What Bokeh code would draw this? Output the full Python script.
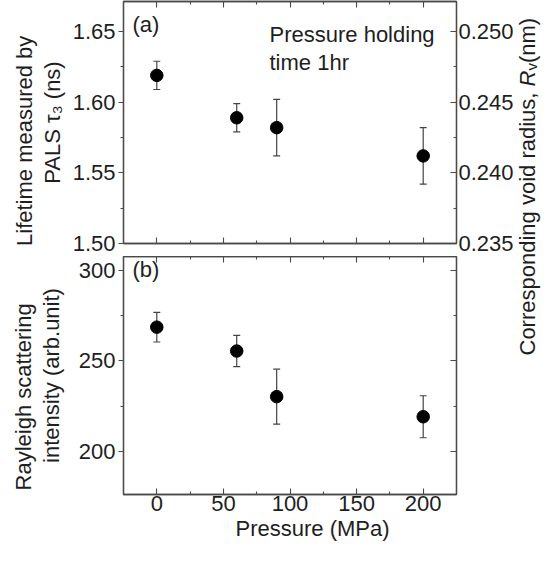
import math
from bokeh.plotting import figure
from bokeh.models import (Range1d, LinearAxis, FixedTicker, Whisker, TeeHead,
                          ColumnDataSource, Label, PrintfTickFormatter, Title,
                          CustomLabelingPolicy)
from bokeh.layouts import row, column
from bokeh.embed import file_html
from bokeh.resources import INLINE

# ---------------- data ----------------
pressure = [0, 60, 90, 200]                       # MPa
tau3 = [1.619, 1.589, 1.582, 1.562]               # ns
tau3_err = [0.010, 0.010, 0.020, 0.020]
rayleigh = [268.7, 255.5, 230.3, 219.2]           # arb. unit
rayleigh_err = [8.2, 8.6, 15.2, 11.6]

x_ticks = [0, 50, 100, 150, 200]
x_minor = [25, 75, 125, 175]
tau_ticks = [1.50, 1.55, 1.60, 1.65]
tau_minor = [1.525, 1.575, 1.625]
rv_ticks = [0.235, 0.240, 0.245, 0.250]
rv_minor = [0.2375, 0.2425, 0.2475]
ray_ticks = [200, 250, 300]
ray_minor = [225, 275]

# ---------------- style / geometry ----------------
FONT = "Liberation Sans"
FS = "22px"
TXT = "#1e1e1e"
AX = "#4a4a4a"
EB = "#444444"
NB = "\u00a0"

FL, FW, FR = 123, 333, 58          # left border, frame width, right border
TT, TH, TB = 1, 242, 13            # top panel: top border, frame, bottom border
BT, BH, BB = 0, 238, 51            # bottom panel
COLW = FL + FW + FR
SIDEW = 540 - COLW
TOTH = TT + TH + TB + BT + BH + BB

XR = (-25, 225)
TAU_R = (1.50, 1.6713)
RV_R = (0.235, 0.25213)
RAY_R = (176.24, 307.73)


def px_x(px):
    return XR[0] + (px - FL) * (XR[1] - XR[0]) / FW


def py_top(py):
    fb = TT + TH
    return TAU_R[0] + (fb - py) * (TAU_R[1] - TAU_R[0]) / TH


def py_bot(py):
    fb = TT + TH + TB + BT + BH
    return RAY_R[0] + (fb - py) * (RAY_R[1] - RAY_R[0]) / BH


def style_axis(ax, out=True, labels=True, standoff=4):
    ax.axis_line_color = AX
    ax.axis_line_width = 1.3
    ax.major_tick_line_color = AX
    ax.minor_tick_line_color = AX
    ax.major_tick_line_width = 1.1
    ax.minor_tick_line_width = 1.1
    if out:
        ax.major_tick_out, ax.major_tick_in = 5, 0
        ax.minor_tick_out, ax.minor_tick_in = 3, 0
    else:
        ax.major_tick_out, ax.major_tick_in = 0, 6
        ax.minor_tick_out, ax.minor_tick_in = 0, 3
    if labels:
        ax.major_label_text_font = FONT
        ax.major_label_text_font_size = FS
        ax.major_label_text_color = TXT
        ax.major_label_standoff = standoff
    else:
        ax.major_label_policy = CustomLabelingPolicy(code="return []")
        ax.major_label_text_font_size = "0px"
        ax.major_label_standoff = 0


def axis_title(ax, text, standoff):
    ax.axis_label = text
    ax.axis_label_text_font = FONT
    ax.axis_label_text_font_size = FS
    ax.axis_label_text_font_style = "normal"
    ax.axis_label_text_color = TXT
    ax.axis_label_standoff = standoff
    ax.axis_label_align = "center"
    ax.axis_label_text_align = "left"
    ax.axis_label_text_line_height = 1.1


def base_fig(yr, fh, bt, bb):
    p = figure(x_range=Range1d(*XR), y_range=Range1d(*yr),
               frame_width=FW, frame_height=fh,
               min_border_left=FL, min_border_right=FR,
               min_border_top=bt, min_border_bottom=bb,
               x_axis_type=None, y_axis_type=None,
               output_backend="svg", toolbar_location=None)
    p.outline_line_color = AX
    p.outline_line_width = 1.3
    p.background_fill_color = "white"
    p.border_fill_color = "white"
    return p


def xticker():
    return FixedTicker(ticks=x_ticks, minor_ticks=x_minor)


def lab(p, x, y, text, align="left", baseline="alphabetic", angle=0.0,
        size=FS, style="normal"):
    p.add_layout(Label(x=x, y=y, text=text, text_font=FONT, text_font_size=size,
                       text_color=TXT, text_align=align, text_baseline=baseline,
                       angle=angle, text_font_style=style))


def points(p, yvals, yerr):
    src = ColumnDataSource(dict(
        x=pressure, y=yvals,
        hi=[v + e for v, e in zip(yvals, yerr)],
        lo=[v - e for v, e in zip(yvals, yerr)]))
    w = Whisker(source=src, base="x", upper="hi", lower="lo",
                line_color=EB, line_width=1.2, level="underlay",
                upper_head=TeeHead(size=7, line_color=EB, line_width=1.2),
                lower_head=TeeHead(size=7, line_color=EB, line_width=1.2))
    p.add_layout(w)
    p.scatter(x="x", y="y", source=src, size=12.5, color="black")


# ---------------- top panel (a) ----------------
top = base_fig(TAU_R, TH, TT, TB)
top.extra_y_ranges = {"rv": Range1d(*RV_R)}

ax = LinearAxis(ticker=FixedTicker(ticks=tau_ticks, minor_ticks=tau_minor),
                formatter=PrintfTickFormatter(format="%.2f"))
style_axis(ax, out=True, labels=True, standoff=3)
axis_title(ax, "Lifetime measured by" + NB * 6 + "\nPALS \u03c4\u2083 (ns)", 5)
top.add_layout(ax, "left")

ax = LinearAxis(y_range_name="rv",
                ticker=FixedTicker(ticks=rv_ticks, minor_ticks=rv_minor),
                formatter=PrintfTickFormatter(format="%.3f"))
style_axis(ax, out=False, labels=True, standoff=2)
top.add_layout(ax, "right")

for loc in ("above", "below"):
    ax = LinearAxis(ticker=xticker())
    style_axis(ax, out=False, labels=False)
    top.add_layout(ax, loc)

points(top, tau3, tau3_err)

lab(top, px_x(132), py_top(24), "(a)", baseline="middle")
lab(top, px_x(269), py_top(34), "Pressure holding")
lab(top, px_x(269), py_top(62), "time 1hr")

# ---------------- bottom panel (b) ----------------
bot = base_fig(RAY_R, BH, BT, BB)

ax = LinearAxis(ticker=FixedTicker(ticks=ray_ticks, minor_ticks=ray_minor),
                formatter=PrintfTickFormatter(format="%d"))
style_axis(ax, out=True, labels=True, standoff=3)
axis_title(ax, "Rayleigh scattering" + NB * 7 + "\nintensity (arb.unit)", 12)
bot.add_layout(ax, "left")

ax = LinearAxis(ticker=FixedTicker(ticks=ray_ticks, minor_ticks=ray_minor))
style_axis(ax, out=False, labels=False)
bot.add_layout(ax, "right")

ax = LinearAxis(ticker=xticker())
style_axis(ax, out=False, labels=False)
bot.add_layout(ax, "above")

ax = LinearAxis(ticker=xticker(), formatter=PrintfTickFormatter(format="%d"))
style_axis(ax, out=False, labels=True, standoff=1)
bot.add_layout(ax, "below")

bot.add_layout(Title(text="Pressure (MPa)", align="left", offset=235 - FL,
                     text_font=FONT, text_font_size=FS, text_font_style="normal",
                     text_color=TXT, standoff=0), "below")

points(bot, rayleigh, rayleigh_err)

lab(bot, px_x(132), py_bot(269), "(b)", baseline="middle")

# ---------------- right-hand shared label ----------------
side = figure(width=SIDEW, height=TOTH, x_range=Range1d(COLW, 540),
              y_range=Range1d(TOTH, 0),
              min_border=0, x_axis_type=None, y_axis_type=None,
              output_backend="svg", toolbar_location=None)
side.outline_line_color = None
side.background_fill_color = "white"
side.border_fill_color = "white"

A = math.pi / 2
bx = 524.5
y0 = 355
lab(side, bx, y0, "Corresponding void radius, ", angle=A)
lab(side, bx, y0 - 269, "R", angle=A, style="italic")
lab(side, bx + 4, y0 - 269 - 15.9, "v", angle=A, size="15px")
lab(side, bx, y0 - 269 - 15.9 - 7.5, " (nm)", angle=A)

layout = row(column(top, bot), side)

open("out.html", "w").write(file_html(layout, INLINE))
